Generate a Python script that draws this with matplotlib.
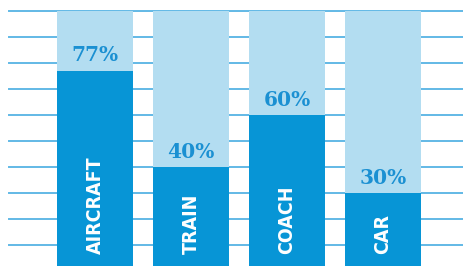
from __future__ import annotations

import matplotlib

matplotlib.use("Agg")
import matplotlib.pyplot as plt

categories = ["AIRCRAFT", "TRAIN", "COACH", "CAR"]
shares = [77, 40, 60, 30]
grid_levels = [10, 20, 30, 40, 50, 60, 70, 80, 90, 100]

DARK = "#0795d6"
LIGHT = "#b3ddf1"
GRID = "#62b9e6"
PCT = "#1b90d2"


def main() -> None:
    fig = plt.figure(figsize=(4.64, 2.66), dpi=100)
    ax = fig.add_axes([9 / 464, 0, 455 / 464, 255 / 266])
    ax.set_xlim(-0.896, 3.844)
    ax.set_ylim(2, 100)
    ax.axis("off")

    for level in grid_levels:
        ax.axhline(level, color=GRID, lw=1.4, zorder=0, clip_on=False)

    x = range(len(categories))
    ax.bar(x, [100] * len(categories), width=0.792, bottom=0, color=LIGHT, zorder=1)
    ax.bar(x, shares, width=0.792, bottom=0, color=DARK, zorder=2)

    for i, (name, value) in enumerate(zip(categories, shares)):
        ax.annotate(
            f"{value}%", xy=(i, value), xytext=(0, 4), textcoords="offset points",
            ha="center", va="bottom", color=PCT, fontsize=14.5, fontweight="bold",
            family=["DejaVu Serif"], zorder=3,
        )
        ax.annotate(
            name, xy=(i, 2), xytext=(0, 8.3), textcoords="offset points",
            ha="center", va="bottom", rotation=90, color="white", fontsize=14,
            fontweight="bold", fontstretch="condensed", family=["DejaVu Sans"], zorder=3,
        )

    fig.savefig("out.png", dpi=100)


if __name__ == "__main__":
    main()
